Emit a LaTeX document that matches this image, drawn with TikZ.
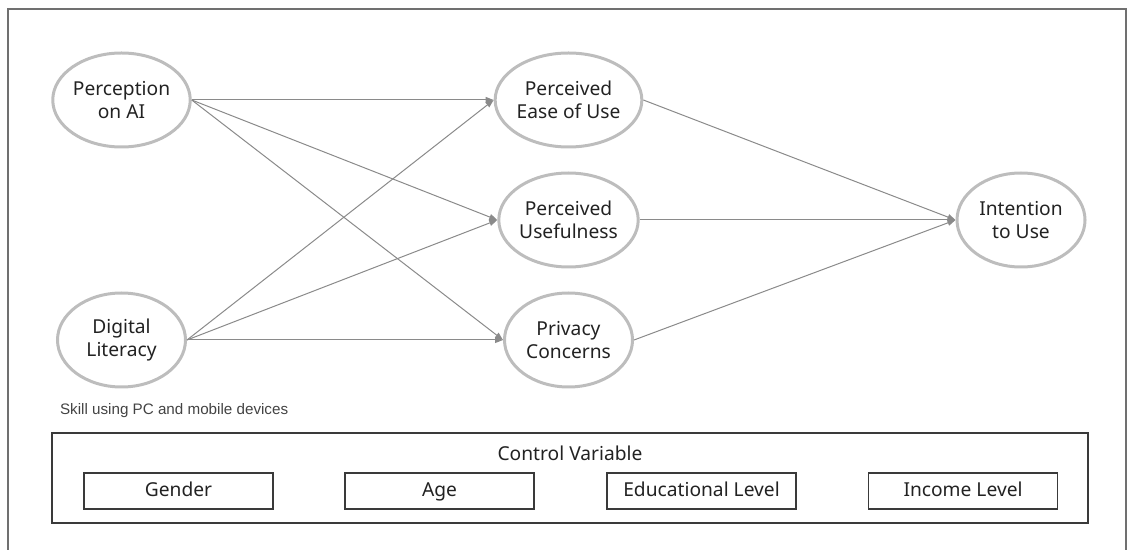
\documentclass[tikz,border=0pt]{standalone}
\usepackage{fontspec}
\setmainfont{Noto Sans}
\newfontfamily\notefont{Liberation Sans}
\usetikzlibrary{shapes.geometric, positioning, arrows.meta}

\definecolor{ringgray}{HTML}{BDBDBD}
\definecolor{linegray}{HTML}{8A8A8A}
\definecolor{boxgray}{HTML}{3A3A3A}
\definecolor{framegray}{HTML}{707070}
\definecolor{textgray}{HTML}{222222}

\begin{document}
\begin{tikzpicture}[
    x=0.5pt, y=-0.5pt,
    construct/.style={ellipse, draw=ringgray, line width=1.5pt, minimum width=64pt, minimum height=47pt, inner sep=0pt, align=center, text=textgray, font=\fontsize{9.6}{11.5}\selectfont},
    line/.style={draw=linegray, line width=0.5pt, -{Triangle[length=4pt, width=3pt]}},
    item/.style={rectangle, draw=boxgray, line width=0.7pt, minimum width=94.5pt, minimum height=18pt, text height=0.72em, text depth=0.22em, text=textgray, font=\fontsize{9.6}{11.5}\selectfont}
]
    \useasboundingbox (0,0) rectangle (1129,550);

    % outer frame (open at the bottom)
    \draw [framegray, line width=0.6pt] (8,550) -- (8,9) -- (1126,9) -- (1126,550);

    %% CONSTRUCTS
    \node [construct] (perception) at (121.5,100) {Perception\\on AI};
    \node [construct] (literacy) at (121.5,340) {Digital\\Literacy};
    \node [construct] (ease) at (568.5,100) {Perceived\\Ease of Use};
    \node [construct] (useful) at (568.5,220) {Perceived\\Usefulness};
    \node [construct] (privacy) at (568.5,340) {Privacy\\Concerns};
    \node [construct] (intention) at (1021,220) {Intention\\to Use};

    \node [anchor=base west, text=textgray!85, font=\notefont\fontsize{7.6}{9}\selectfont] (skillnote) at (53,415) {Skill using PC and mobile devices};

    % Paths from the two antecedents
    \path [line] (perception.east) -- (ease.west);
    \path [line] (perception.east) -- (useful.west);
    \path [line] (perception.east) -- (privacy.west);
    \path [line] (literacy.east) -- (ease.west);
    \path [line] (literacy.east) -- (useful.west);
    \path [line] (literacy.east) -- (privacy.west);

    % Paths to intention
    \path [line] (ease.east) -- (intention.west);
    \path [line] (useful.east) -- (intention.west);
    \path [line] (privacy.east) -- (intention.west);

    %% CONTROL VARIABLES
    \node [rectangle, draw=boxgray, line width=0.7pt, minimum width=518pt, minimum height=45pt] (control) at (570,478) {};
    \node [anchor=base, text=textgray, font=\fontsize{9.6}{11.5}\selectfont] (controltitle) at (570,460) {Control Variable};
    \node [item] (gender) at (178.5,491) {Gender};
    \node [item] (age) at (439.5,491) {Age};
    \node [item] (education) at (701.5,491) {Educational Level};
    \node [item] (income) at (963,491) {Income Level};

\end{tikzpicture}
\end{document}
